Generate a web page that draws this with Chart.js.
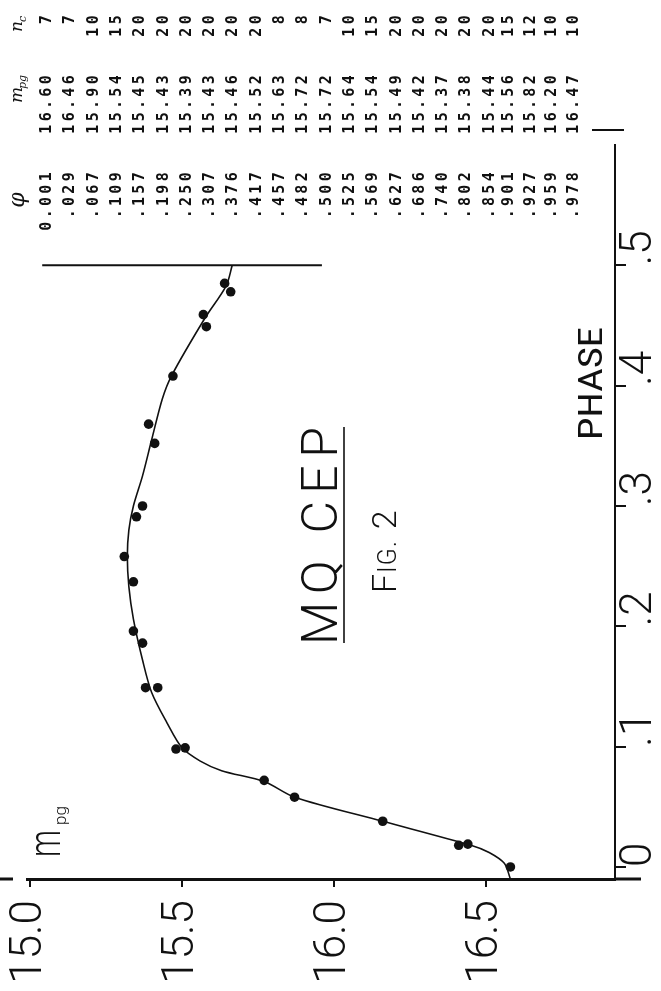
<!DOCTYPE html>
<html>
<head>
<meta charset="utf-8">
<script src="https://cdn.jsdelivr.net/npm/chart.js@4/dist/chart.umd.min.js"></script>
<style>
html, body { margin: 0; padding: 0; background: #fff; }
canvas { display: block; }
</style>
</head>
<body>
<canvas id="graficoMQCep" width="661" height="991"></canvas>
<script>
// tabela impressa: fase, m_pg, n_c
const tabelaFase = ['0.001', '.029', '.067', '.109', '.157', '.198', '.250', '.307', '.376', '.417', '.457', '.482',
    '.500', '.525', '.569', '.627', '.686', '.740', '.802', '.854', '.901', '.927', '.959', '.978'];
const tabelaMag = ['16.60', '16.46', '15.90', '15.54', '15.45', '15.43', '15.39', '15.43', '15.46', '15.52', '15.63', '15.72',
    '15.72', '15.64', '15.54', '15.49', '15.42', '15.37', '15.38', '15.44', '15.56', '15.82', '16.20', '16.47'];
const tabelaN = ['7', '7', '10', '15', '20', '20', '20', '20', '20', '20', '8', '8',
    '7', '10', '15', '20', '20', '20', '20', '20', '15', '12', '10', '10'];

// pontos do grafico
const pontosMag = [16.58, 16.41, 16.44, 16.16, 15.87, 15.77, 15.48, 15.51, 15.38, 15.42, 15.37, 15.34,
    15.34, 15.31, 15.35, 15.37, 15.41, 15.39, 15.47, 15.58, 15.57, 15.66, 15.64];
const pontosFase = [0.000, 0.018, 0.019, 0.038, 0.058, 0.072, 0.098, 0.099, 0.149, 0.149, 0.186, 0.196,
    0.237, 0.258, 0.291, 0.300, 0.352, 0.368, 0.408, 0.449, 0.459, 0.478, 0.485];

// curva ajustada a mao
const curvaMag = [16.58, 16.56, 16.51, 16.45, 16.16, 15.87, 15.77, 15.63, 15.56, 15.50, 15.45, 15.40, 15.37,
    15.34, 15.325, 15.32, 15.325, 15.34, 15.37, 15.40, 15.435, 15.465, 15.575, 15.645, 15.665];
const curvaFase = [-0.01, 0.003, 0.012, 0.018, 0.038, 0.058, 0.071, 0.080, 0.088, 0.099, 0.120, 0.145, 0.172,
    0.206, 0.233, 0.258, 0.280, 0.300, 0.325, 0.355, 0.389, 0.408, 0.456, 0.483, 0.500];

// linha em fase .5
const linhaMag = [15.04, 15.96];
const linhaFase = [0.5, 0.5];

// eixos
const magMin = 14.99, magMax = 16.924, magPasso = 0.5;
const faseMin = -0.01, faseMax = 0.6, fasePasso = 0.1, faseUltimoRotulo = 0.5;

const cor = '#111';
const fonteRotulo = "Roboto, 'DejaVu Sans', sans-serif";

function pares(xs, ys) {
    return xs.map((x, i) => ({ x: x, y: ys[i] }));
}

function textoVertical(ctx, texto, x, y, alinhamento, fonte, espaco, escala) {
    ctx.save();
    ctx.translate(x, y);
    ctx.rotate(-Math.PI / 2);
    ctx.font = fonte;
    ctx.letterSpacing = (espaco || 0) + 'px';
    ctx.textAlign = alinhamento;
    ctx.textBaseline = 'alphabetic';
    if (escala) ctx.scale(escala, 1);
    ctx.fillText(texto, 0, 0);
    ctx.restore();
}

const textos = {
    id: 'textos',
    afterDraw(chart) {
        const ctx = chart.ctx;
        ctx.save();
        ctx.fillStyle = cor;
        ctx.strokeStyle = cor;

        // tabela
        const fonteTabela = "bold 15px 'DejaVu Sans Mono', monospace";
        for (let i = 0; i < tabelaFase.length; i++) {
            const x = (i < 20 ? 46 + 23.3 * i : 508 + 21.7 * (i - 20)) + 5;
            textoVertical(ctx, tabelaFase[i], x, 169, 'right', fonteTabela, 3.3);
            textoVertical(ctx, tabelaMag[i], x, 72, 'right', fonteTabela, 3.3);
            textoVertical(ctx, tabelaN[i], x, 12, 'right', fonteTabela, 3.3);
        }
        textoVertical(ctx, 'φ', 24, 200, 'center', "italic 22px 'DejaVu Serif', serif");
        textoVertical(ctx, 'm', 22, 103, 'left', "italic 17px 'DejaVu Serif', serif");
        textoVertical(ctx, 'pg', 26, 89, 'left', "italic 11px 'DejaVu Serif', serif");
        textoVertical(ctx, 'n', 22, 32, 'left', "italic 17px 'DejaVu Serif', serif");
        textoVertical(ctx, 'c', 26, 22, 'left', "italic 11px 'DejaVu Serif', serif");

        // titulo
        ctx.font = "300 50px " + fonteRotulo;
        const largura = ctx.measureText('MQ CEP').width;
        textoVertical(ctx, 'MQ CEP', 337, 645, 'left', "300 50px " + fonteRotulo, (218 - largura) / 5);
        ctx.lineWidth = 1.6;
        ctx.beginPath();
        ctx.moveTo(344, 643);
        ctx.lineTo(344, 427);
        ctx.stroke();

        // Fig. 2
        let y = 593;
        textoVertical(ctx, 'F', 396, y, 'left', "300 34px " + fonteRotulo);
        ctx.font = "300 34px " + fonteRotulo;
        y -= ctx.measureText('F').width + 1;
        textoVertical(ctx, 'IG.', 396, y, 'left', "300 25px " + fonteRotulo, 1);
        ctx.font = "300 25px " + fonteRotulo;
        y -= ctx.measureText('IG.').width + 14;
        textoVertical(ctx, '2', 396, y, 'left', "300 34px " + fonteRotulo);

        // PHASE
        const fonteFase = "34px 'Liberation Sans Narrow', 'Roboto Condensed', " + fonteRotulo;
        ctx.font = fonteFase;
        textoVertical(ctx, 'PHASE', 602, 440, 'left', fonteFase, 0, 113 / ctx.measureText('PHASE').width);

        // m_pg
        ctx.font = "300 44px " + fonteRotulo;
        textoVertical(ctx, 'm', 60, 857, 'left', "300 44px " + fonteRotulo, 0, 27 / ctx.measureText('m').width);
        textoVertical(ctx, 'pg', 66, 825, 'left', "300 17px " + fonteRotulo);

        // tracos soltos
        ctx.lineWidth = 3;
        ctx.beginPath();
        ctx.moveTo(614, 879); ctx.lineTo(641, 879);
        ctx.moveTo(0, 879); ctx.lineTo(13, 879);
        ctx.stroke();
        ctx.lineWidth = 2;
        ctx.beginPath();
        ctx.moveTo(592, 130); ctx.lineTo(624, 130);
        ctx.stroke();
        ctx.restore();
    }
};

const ctx = document.getElementById('graficoMQCep').getContext('2d');
new Chart(ctx, {
    type: 'scatter',
    data: {
        datasets: [
            {
                label: 'Curva',
                data: pares(curvaMag, curvaFase),
                showLine: true,
                borderColor: cor,
                borderWidth: 1.6,
                pointRadius: 0,
                tension: 0.3,
                order: 2
            },
            {
                label: 'Fase .5',
                data: pares(linhaMag, linhaFase),
                showLine: true,
                borderColor: cor,
                borderWidth: 2,
                pointRadius: 0,
                order: 3
            },
            {
                label: 'MQ Cep',
                data: pares(pontosMag, pontosFase),
                pointRadius: 4.8,
                pointBackgroundColor: cor,
                pointBorderWidth: 0,
                order: 1
            }
        ]
    },
    options: {
        responsive: false,
        animation: false,
        layout: { padding: { top: 145, left: 27, right: 0, bottom: 0 } },
        plugins: { legend: { display: false }, tooltip: { enabled: false } },
        scales: {
            x: {
                type: 'linear',
                position: 'bottom',
                min: magMin,
                max: magMax,
                border: { display: true, color: cor, width: 3 },
                grid: { drawOnChartArea: false, drawTicks: true, tickLength: 8, color: cor, lineWidth: 2 },
                ticks: {
                    stepSize: magPasso,
                    includeBounds: false,
                    autoSkip: false,
                    minRotation: 90,
                    maxRotation: 90,
                    padding: 13,
                    color: cor,
                    font: { family: fonteRotulo, size: 44, weight: '300' },
                    callback: v => v.toFixed(1)
                },
                afterFit: s => { s.height = 112; }
            },
            y: {
                type: 'linear',
                position: 'right',
                min: faseMin,
                max: faseMax,
                border: { display: true, color: cor, width: 2 },
                grid: { drawOnChartArea: false, drawTicks: true, tickLength: 11, color: cor, lineWidth: 2 },
                ticks: {
                    stepSize: fasePasso,
                    includeBounds: false,
                    autoSkip: false,
                    minRotation: 90,
                    maxRotation: 90,
                    padding: 14,
                    color: cor,
                    font: { family: fonteRotulo, size: 44, weight: '300' },
                    callback: v => Math.abs(v) < 1e-9 ? '0' : '.' + Math.round(v * 10)
                },
                afterBuildTicks: s => { s.ticks = s.ticks.filter(t => t.value <= faseUltimoRotulo + 1e-9); },
                afterFit: s => { s.width = 46; }
            }
        }
    },
    plugins: [textos]
});
</script>
</body>
</html>
